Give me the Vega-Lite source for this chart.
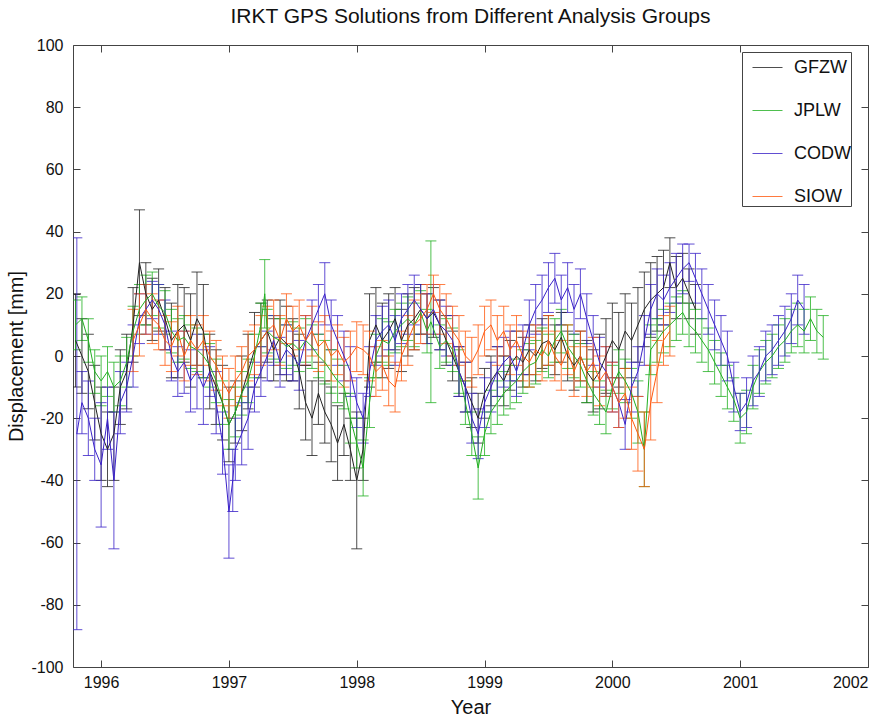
{
  "$schema": "https://vega.github.io/schema/vega-lite/v6.json",
  "width": 795,
  "height": 622,
  "autosize": {"type": "none"},
  "padding": {"left": 73, "top": 45, "right": 27, "bottom": 54},
  "background": "white",
  "title": {"text": "IRKT GPS Solutions from Different Analysis Groups", "font": "Liberation Sans", "fontSize": 21, "fontWeight": "normal", "color": "#111", "offset": 10},
  "config": {
    "view": {"stroke": null},
    "axis": {"labelFont": "Liberation Sans", "titleFont": "Liberation Sans", "labelFontSize": 16, "titleFontSize": 20, "titleFontWeight": "normal", "labelColor": "#111", "titleColor": "#111", "domainColor": "#444", "tickColor": "#444", "grid": false},
    "legend": {"symbolType": "stroke", "labelFont": "Liberation Sans", "labelFontSize": 18, "labelColor": "#111"}
  },
  "data": {"values": [
    {"series":"GFZW","year":1995.80,"disp":5,"err":15},
    {"series":"GFZW","year":1995.85,"disp":0,"err":12},
    {"series":"GFZW","year":1995.90,"disp":-5,"err":12},
    {"series":"GFZW","year":1995.95,"disp":-15,"err":12},
    {"series":"GFZW","year":1996.00,"disp":-25,"err":15},
    {"series":"GFZW","year":1996.05,"disp":-30,"err":12},
    {"series":"GFZW","year":1996.10,"disp":-25,"err":15},
    {"series":"GFZW","year":1996.15,"disp":-10,"err":12},
    {"series":"GFZW","year":1996.20,"disp":-5,"err":12},
    {"series":"GFZW","year":1996.25,"disp":10,"err":12},
    {"series":"GFZW","year":1996.30,"disp":30,"err":17},
    {"series":"GFZW","year":1996.35,"disp":20,"err":10},
    {"series":"GFZW","year":1996.40,"disp":15,"err":10},
    {"series":"GFZW","year":1996.45,"disp":18,"err":10},
    {"series":"GFZW","year":1996.50,"disp":12,"err":10},
    {"series":"GFZW","year":1996.55,"disp":5,"err":12},
    {"series":"GFZW","year":1996.60,"disp":8,"err":15},
    {"series":"GFZW","year":1996.65,"disp":10,"err":12},
    {"series":"GFZW","year":1996.70,"disp":5,"err":15},
    {"series":"GFZW","year":1996.75,"disp":12,"err":15},
    {"series":"GFZW","year":1996.80,"disp":8,"err":15},
    {"series":"GFZW","year":1996.85,"disp":-5,"err":12},
    {"series":"GFZW","year":1996.90,"disp":-10,"err":12},
    {"series":"GFZW","year":1996.95,"disp":-15,"err":12},
    {"series":"GFZW","year":1997.00,"disp":-22,"err":12},
    {"series":"GFZW","year":1997.05,"disp":-18,"err":10},
    {"series":"GFZW","year":1997.10,"disp":-12,"err":12},
    {"series":"GFZW","year":1997.15,"disp":-5,"err":12},
    {"series":"GFZW","year":1997.20,"disp":2,"err":12},
    {"series":"GFZW","year":1997.25,"disp":5,"err":12},
    {"series":"GFZW","year":1997.30,"disp":8,"err":10},
    {"series":"GFZW","year":1997.35,"disp":2,"err":10},
    {"series":"GFZW","year":1997.40,"disp":6,"err":12},
    {"series":"GFZW","year":1997.45,"disp":4,"err":12},
    {"series":"GFZW","year":1997.50,"disp":2,"err":10},
    {"series":"GFZW","year":1997.55,"disp":-5,"err":12},
    {"series":"GFZW","year":1997.60,"disp":-15,"err":12},
    {"series":"GFZW","year":1997.65,"disp":-20,"err":12},
    {"series":"GFZW","year":1997.70,"disp":-12,"err":10},
    {"series":"GFZW","year":1997.75,"disp":-18,"err":10},
    {"series":"GFZW","year":1997.80,"disp":-22,"err":12},
    {"series":"GFZW","year":1997.85,"disp":-28,"err":12},
    {"series":"GFZW","year":1997.90,"disp":-22,"err":10},
    {"series":"GFZW","year":1997.95,"disp":-30,"err":10},
    {"series":"GFZW","year":1998.00,"disp":-40,"err":22},
    {"series":"GFZW","year":1998.05,"disp":-30,"err":10},
    {"series":"GFZW","year":1998.10,"disp":5,"err":15},
    {"series":"GFZW","year":1998.15,"disp":10,"err":12},
    {"series":"GFZW","year":1998.20,"disp":5,"err":12},
    {"series":"GFZW","year":1998.25,"disp":8,"err":12},
    {"series":"GFZW","year":1998.30,"disp":12,"err":10},
    {"series":"GFZW","year":1998.35,"disp":5,"err":10},
    {"series":"GFZW","year":1998.40,"disp":10,"err":10},
    {"series":"GFZW","year":1998.45,"disp":12,"err":10},
    {"series":"GFZW","year":1998.50,"disp":15,"err":8},
    {"series":"GFZW","year":1998.55,"disp":12,"err":8},
    {"series":"GFZW","year":1998.60,"disp":14,"err":8},
    {"series":"GFZW","year":1998.65,"disp":10,"err":8},
    {"series":"GFZW","year":1998.70,"disp":5,"err":8},
    {"series":"GFZW","year":1998.75,"disp":0,"err":8},
    {"series":"GFZW","year":1998.80,"disp":-5,"err":8},
    {"series":"GFZW","year":1998.85,"disp":-10,"err":8},
    {"series":"GFZW","year":1998.90,"disp":-15,"err":8},
    {"series":"GFZW","year":1998.95,"disp":-20,"err":8},
    {"series":"GFZW","year":1999.00,"disp":-12,"err":8},
    {"series":"GFZW","year":1999.05,"disp":-8,"err":8},
    {"series":"GFZW","year":1999.10,"disp":-5,"err":8},
    {"series":"GFZW","year":1999.15,"disp":-8,"err":8},
    {"series":"GFZW","year":1999.20,"disp":-3,"err":8},
    {"series":"GFZW","year":1999.25,"disp":0,"err":8},
    {"series":"GFZW","year":1999.30,"disp":-2,"err":8},
    {"series":"GFZW","year":1999.35,"disp":2,"err":8},
    {"series":"GFZW","year":1999.40,"disp":0,"err":8},
    {"series":"GFZW","year":1999.45,"disp":4,"err":8},
    {"series":"GFZW","year":1999.50,"disp":5,"err":8},
    {"series":"GFZW","year":1999.55,"disp":2,"err":8},
    {"series":"GFZW","year":1999.60,"disp":6,"err":8},
    {"series":"GFZW","year":1999.65,"disp":0,"err":8},
    {"series":"GFZW","year":1999.70,"disp":-3,"err":8},
    {"series":"GFZW","year":1999.75,"disp":0,"err":8},
    {"series":"GFZW","year":1999.80,"disp":-5,"err":10},
    {"series":"GFZW","year":1999.85,"disp":-8,"err":10},
    {"series":"GFZW","year":1999.90,"disp":-5,"err":12},
    {"series":"GFZW","year":1999.95,"disp":0,"err":12},
    {"series":"GFZW","year":2000.00,"disp":5,"err":12},
    {"series":"GFZW","year":2000.05,"disp":2,"err":12},
    {"series":"GFZW","year":2000.10,"disp":8,"err":12},
    {"series":"GFZW","year":2000.15,"disp":5,"err":12},
    {"series":"GFZW","year":2000.20,"disp":10,"err":12},
    {"series":"GFZW","year":2000.25,"disp":15,"err":12},
    {"series":"GFZW","year":2000.30,"disp":18,"err":12},
    {"series":"GFZW","year":2000.35,"disp":20,"err":12},
    {"series":"GFZW","year":2000.40,"disp":22,"err":12},
    {"series":"GFZW","year":2000.45,"disp":30,"err":8},
    {"series":"GFZW","year":2000.50,"disp":22,"err":10},
    {"series":"GFZW","year":2000.55,"disp":25,"err":8},
    {"series":"GFZW","year":2000.60,"disp":20,"err":8},
    {"series":"GFZW","year":2000.65,"disp":15,"err":8},

    {"series":"JPLW","year":1995.80,"disp":10,"err":8},
    {"series":"JPLW","year":1995.85,"disp":12,"err":7},
    {"series":"JPLW","year":1995.90,"disp":5,"err":7},
    {"series":"JPLW","year":1995.95,"disp":-5,"err":7},
    {"series":"JPLW","year":1996.00,"disp":-8,"err":8},
    {"series":"JPLW","year":1996.05,"disp":-5,"err":8},
    {"series":"JPLW","year":1996.10,"disp":-10,"err":8},
    {"series":"JPLW","year":1996.15,"disp":-8,"err":8},
    {"series":"JPLW","year":1996.20,"disp":-2,"err":8},
    {"series":"JPLW","year":1996.25,"disp":8,"err":8},
    {"series":"JPLW","year":1996.30,"disp":15,"err":8},
    {"series":"JPLW","year":1996.35,"disp":18,"err":8},
    {"series":"JPLW","year":1996.40,"disp":20,"err":7},
    {"series":"JPLW","year":1996.45,"disp":16,"err":7},
    {"series":"JPLW","year":1996.50,"disp":14,"err":7},
    {"series":"JPLW","year":1996.55,"disp":8,"err":7},
    {"series":"JPLW","year":1996.60,"disp":5,"err":7},
    {"series":"JPLW","year":1996.65,"disp":6,"err":7},
    {"series":"JPLW","year":1996.70,"disp":3,"err":7},
    {"series":"JPLW","year":1996.75,"disp":2,"err":7},
    {"series":"JPLW","year":1996.80,"disp":0,"err":7},
    {"series":"JPLW","year":1996.85,"disp":-3,"err":7},
    {"series":"JPLW","year":1996.90,"disp":-8,"err":7},
    {"series":"JPLW","year":1996.95,"disp":-15,"err":7},
    {"series":"JPLW","year":1997.00,"disp":-22,"err":8},
    {"series":"JPLW","year":1997.05,"disp":-18,"err":8},
    {"series":"JPLW","year":1997.10,"disp":-12,"err":7},
    {"series":"JPLW","year":1997.15,"disp":-8,"err":7},
    {"series":"JPLW","year":1997.20,"disp":0,"err":7},
    {"series":"JPLW","year":1997.25,"disp":10,"err":7},
    {"series":"JPLW","year":1997.28,"disp":20,"err":11},
    {"series":"JPLW","year":1997.30,"disp":8,"err":7},
    {"series":"JPLW","year":1997.35,"disp":6,"err":7},
    {"series":"JPLW","year":1997.40,"disp":5,"err":7},
    {"series":"JPLW","year":1997.45,"disp":3,"err":7},
    {"series":"JPLW","year":1997.50,"disp":4,"err":7},
    {"series":"JPLW","year":1997.55,"disp":2,"err":7},
    {"series":"JPLW","year":1997.60,"disp":5,"err":7},
    {"series":"JPLW","year":1997.65,"disp":3,"err":7},
    {"series":"JPLW","year":1997.70,"disp":0,"err":7},
    {"series":"JPLW","year":1997.75,"disp":-2,"err":7},
    {"series":"JPLW","year":1997.80,"disp":-5,"err":7},
    {"series":"JPLW","year":1997.85,"disp":-8,"err":7},
    {"series":"JPLW","year":1997.90,"disp":-10,"err":7},
    {"series":"JPLW","year":1997.95,"disp":-20,"err":8},
    {"series":"JPLW","year":1998.00,"disp":-28,"err":8},
    {"series":"JPLW","year":1998.05,"disp":-36,"err":9},
    {"series":"JPLW","year":1998.10,"disp":-15,"err":8},
    {"series":"JPLW","year":1998.15,"disp":0,"err":7},
    {"series":"JPLW","year":1998.20,"disp":5,"err":7},
    {"series":"JPLW","year":1998.25,"disp":4,"err":7},
    {"series":"JPLW","year":1998.30,"disp":8,"err":7},
    {"series":"JPLW","year":1998.35,"disp":10,"err":7},
    {"series":"JPLW","year":1998.40,"disp":12,"err":7},
    {"series":"JPLW","year":1998.45,"disp":10,"err":7},
    {"series":"JPLW","year":1998.50,"disp":14,"err":7},
    {"series":"JPLW","year":1998.55,"disp":8,"err":7},
    {"series":"JPLW","year":1998.58,"disp":11,"err":26},
    {"series":"JPLW","year":1998.65,"disp":3,"err":7},
    {"series":"JPLW","year":1998.70,"disp":5,"err":7},
    {"series":"JPLW","year":1998.75,"disp":2,"err":7},
    {"series":"JPLW","year":1998.80,"disp":-5,"err":7},
    {"series":"JPLW","year":1998.85,"disp":-15,"err":7},
    {"series":"JPLW","year":1998.90,"disp":-25,"err":7},
    {"series":"JPLW","year":1998.95,"disp":-36,"err":10},
    {"series":"JPLW","year":1999.00,"disp":-25,"err":7},
    {"series":"JPLW","year":1999.05,"disp":-18,"err":7},
    {"series":"JPLW","year":1999.10,"disp":-15,"err":7},
    {"series":"JPLW","year":1999.15,"disp":-12,"err":7},
    {"series":"JPLW","year":1999.20,"disp":-10,"err":7},
    {"series":"JPLW","year":1999.25,"disp":-8,"err":7},
    {"series":"JPLW","year":1999.30,"disp":-5,"err":7},
    {"series":"JPLW","year":1999.35,"disp":-3,"err":7},
    {"series":"JPLW","year":1999.40,"disp":-2,"err":7},
    {"series":"JPLW","year":1999.45,"disp":2,"err":7},
    {"series":"JPLW","year":1999.50,"disp":0,"err":7},
    {"series":"JPLW","year":1999.55,"disp":5,"err":7},
    {"series":"JPLW","year":1999.60,"disp":8,"err":7},
    {"series":"JPLW","year":1999.65,"disp":3,"err":7},
    {"series":"JPLW","year":1999.70,"disp":0,"err":7},
    {"series":"JPLW","year":1999.75,"disp":-3,"err":7},
    {"series":"JPLW","year":1999.80,"disp":-8,"err":7},
    {"series":"JPLW","year":1999.85,"disp":-12,"err":7},
    {"series":"JPLW","year":1999.90,"disp":-15,"err":7},
    {"series":"JPLW","year":1999.95,"disp":-18,"err":7},
    {"series":"JPLW","year":2000.00,"disp":-10,"err":7},
    {"series":"JPLW","year":2000.05,"disp":-5,"err":7},
    {"series":"JPLW","year":2000.10,"disp":-8,"err":7},
    {"series":"JPLW","year":2000.15,"disp":-12,"err":8},
    {"series":"JPLW","year":2000.20,"disp":-18,"err":10},
    {"series":"JPLW","year":2000.25,"disp":-30,"err":12},
    {"series":"JPLW","year":2000.30,"disp":2,"err":8},
    {"series":"JPLW","year":2000.35,"disp":5,"err":7},
    {"series":"JPLW","year":2000.40,"disp":8,"err":7},
    {"series":"JPLW","year":2000.45,"disp":10,"err":7},
    {"series":"JPLW","year":2000.50,"disp":12,"err":7},
    {"series":"JPLW","year":2000.55,"disp":14,"err":7},
    {"series":"JPLW","year":2000.60,"disp":10,"err":7},
    {"series":"JPLW","year":2000.65,"disp":8,"err":7},
    {"series":"JPLW","year":2000.70,"disp":5,"err":7},
    {"series":"JPLW","year":2000.75,"disp":2,"err":7},
    {"series":"JPLW","year":2000.80,"disp":-2,"err":7},
    {"series":"JPLW","year":2000.85,"disp":-6,"err":7},
    {"series":"JPLW","year":2000.90,"disp":-10,"err":7},
    {"series":"JPLW","year":2000.95,"disp":-14,"err":7},
    {"series":"JPLW","year":2001.00,"disp":-20,"err":8},
    {"series":"JPLW","year":2001.05,"disp":-18,"err":7},
    {"series":"JPLW","year":2001.10,"disp":-10,"err":7},
    {"series":"JPLW","year":2001.15,"disp":-5,"err":7},
    {"series":"JPLW","year":2001.20,"disp":-2,"err":7},
    {"series":"JPLW","year":2001.25,"disp":0,"err":7},
    {"series":"JPLW","year":2001.30,"disp":3,"err":7},
    {"series":"JPLW","year":2001.35,"disp":5,"err":7},
    {"series":"JPLW","year":2001.40,"disp":8,"err":7},
    {"series":"JPLW","year":2001.45,"disp":10,"err":7},
    {"series":"JPLW","year":2001.50,"disp":8,"err":7},
    {"series":"JPLW","year":2001.55,"disp":12,"err":7},
    {"series":"JPLW","year":2001.60,"disp":8,"err":7},
    {"series":"JPLW","year":2001.65,"disp":6,"err":7},

    {"series":"CODW","year":1995.81,"disp":-25,"err":63},
    {"series":"CODW","year":1995.85,"disp":-15,"err":10},
    {"series":"CODW","year":1995.90,"disp":-20,"err":12},
    {"series":"CODW","year":1995.95,"disp":-30,"err":10},
    {"series":"CODW","year":1996.00,"disp":-35,"err":20},
    {"series":"CODW","year":1996.05,"disp":-20,"err":10},
    {"series":"CODW","year":1996.10,"disp":-40,"err":22},
    {"series":"CODW","year":1996.15,"disp":-15,"err":10},
    {"series":"CODW","year":1996.20,"disp":-10,"err":8},
    {"series":"CODW","year":1996.25,"disp":0,"err":10},
    {"series":"CODW","year":1996.30,"disp":12,"err":8},
    {"series":"CODW","year":1996.35,"disp":15,"err":8},
    {"series":"CODW","year":1996.40,"disp":18,"err":6},
    {"series":"CODW","year":1996.45,"disp":15,"err":8},
    {"series":"CODW","year":1996.50,"disp":10,"err":8},
    {"series":"CODW","year":1996.55,"disp":0,"err":8},
    {"series":"CODW","year":1996.60,"disp":-5,"err":8},
    {"series":"CODW","year":1996.65,"disp":-2,"err":10},
    {"series":"CODW","year":1996.70,"disp":-8,"err":10},
    {"series":"CODW","year":1996.75,"disp":-5,"err":12},
    {"series":"CODW","year":1996.80,"disp":-10,"err":12},
    {"series":"CODW","year":1996.85,"disp":-5,"err":8},
    {"series":"CODW","year":1996.90,"disp":-15,"err":10},
    {"series":"CODW","year":1996.95,"disp":-28,"err":10},
    {"series":"CODW","year":1997.00,"disp":-50,"err":15},
    {"series":"CODW","year":1997.03,"disp":-40,"err":10},
    {"series":"CODW","year":1997.05,"disp":-30,"err":10},
    {"series":"CODW","year":1997.10,"disp":-25,"err":10},
    {"series":"CODW","year":1997.15,"disp":-20,"err":10},
    {"series":"CODW","year":1997.20,"disp":-10,"err":8},
    {"series":"CODW","year":1997.25,"disp":-5,"err":8},
    {"series":"CODW","year":1997.30,"disp":0,"err":8},
    {"series":"CODW","year":1997.35,"disp":5,"err":8},
    {"series":"CODW","year":1997.40,"disp":-2,"err":8},
    {"series":"CODW","year":1997.45,"disp":2,"err":8},
    {"series":"CODW","year":1997.50,"disp":0,"err":8},
    {"series":"CODW","year":1997.55,"disp":-3,"err":8},
    {"series":"CODW","year":1997.60,"disp":5,"err":8},
    {"series":"CODW","year":1997.65,"disp":10,"err":8},
    {"series":"CODW","year":1997.70,"disp":15,"err":8},
    {"series":"CODW","year":1997.75,"disp":20,"err":10},
    {"series":"CODW","year":1997.80,"disp":10,"err":8},
    {"series":"CODW","year":1997.85,"disp":5,"err":8},
    {"series":"CODW","year":1997.90,"disp":0,"err":8},
    {"series":"CODW","year":1997.95,"disp":-5,"err":8},
    {"series":"CODW","year":1998.00,"disp":-15,"err":8},
    {"series":"CODW","year":1998.05,"disp":-20,"err":8},
    {"series":"CODW","year":1998.10,"disp":-5,"err":8},
    {"series":"CODW","year":1998.15,"disp":5,"err":8},
    {"series":"CODW","year":1998.20,"disp":8,"err":8},
    {"series":"CODW","year":1998.25,"disp":10,"err":8},
    {"series":"CODW","year":1998.30,"disp":5,"err":8},
    {"series":"CODW","year":1998.35,"disp":12,"err":8},
    {"series":"CODW","year":1998.40,"disp":15,"err":8},
    {"series":"CODW","year":1998.45,"disp":18,"err":8},
    {"series":"CODW","year":1998.50,"disp":15,"err":8},
    {"series":"CODW","year":1998.55,"disp":12,"err":8},
    {"series":"CODW","year":1998.60,"disp":15,"err":8},
    {"series":"CODW","year":1998.65,"disp":10,"err":8},
    {"series":"CODW","year":1998.70,"disp":8,"err":8},
    {"series":"CODW","year":1998.75,"disp":5,"err":8},
    {"series":"CODW","year":1998.80,"disp":-5,"err":8},
    {"series":"CODW","year":1998.85,"disp":-10,"err":8},
    {"series":"CODW","year":1998.90,"disp":-20,"err":8},
    {"series":"CODW","year":1998.95,"disp":-25,"err":8},
    {"series":"CODW","year":1999.00,"disp":-15,"err":8},
    {"series":"CODW","year":1999.05,"disp":-10,"err":8},
    {"series":"CODW","year":1999.10,"disp":-5,"err":8},
    {"series":"CODW","year":1999.15,"disp":-2,"err":8},
    {"series":"CODW","year":1999.20,"disp":0,"err":8},
    {"series":"CODW","year":1999.25,"disp":-5,"err":8},
    {"series":"CODW","year":1999.30,"disp":2,"err":8},
    {"series":"CODW","year":1999.35,"disp":10,"err":8},
    {"series":"CODW","year":1999.40,"disp":15,"err":8},
    {"series":"CODW","year":1999.45,"disp":18,"err":8},
    {"series":"CODW","year":1999.50,"disp":22,"err":8},
    {"series":"CODW","year":1999.55,"disp":25,"err":8},
    {"series":"CODW","year":1999.60,"disp":18,"err":8},
    {"series":"CODW","year":1999.65,"disp":22,"err":8},
    {"series":"CODW","year":1999.70,"disp":15,"err":8},
    {"series":"CODW","year":1999.75,"disp":20,"err":8},
    {"series":"CODW","year":1999.80,"disp":12,"err":8},
    {"series":"CODW","year":1999.85,"disp":5,"err":8},
    {"series":"CODW","year":1999.90,"disp":-2,"err":8},
    {"series":"CODW","year":1999.95,"disp":-5,"err":8},
    {"series":"CODW","year":2000.00,"disp":-10,"err":8},
    {"series":"CODW","year":2000.05,"disp":-15,"err":8},
    {"series":"CODW","year":2000.10,"disp":-22,"err":8},
    {"series":"CODW","year":2000.15,"disp":-10,"err":8},
    {"series":"CODW","year":2000.20,"disp":-5,"err":8},
    {"series":"CODW","year":2000.25,"disp":5,"err":8},
    {"series":"CODW","year":2000.30,"disp":15,"err":8},
    {"series":"CODW","year":2000.35,"disp":20,"err":8},
    {"series":"CODW","year":2000.40,"disp":18,"err":8},
    {"series":"CODW","year":2000.45,"disp":22,"err":8},
    {"series":"CODW","year":2000.50,"disp":25,"err":8},
    {"series":"CODW","year":2000.55,"disp":28,"err":8},
    {"series":"CODW","year":2000.60,"disp":30,"err":6},
    {"series":"CODW","year":2000.65,"disp":25,"err":8},
    {"series":"CODW","year":2000.70,"disp":20,"err":8},
    {"series":"CODW","year":2000.75,"disp":15,"err":8},
    {"series":"CODW","year":2000.80,"disp":10,"err":8},
    {"series":"CODW","year":2000.85,"disp":5,"err":8},
    {"series":"CODW","year":2000.90,"disp":0,"err":8},
    {"series":"CODW","year":2000.95,"disp":-10,"err":8},
    {"series":"CODW","year":2001.00,"disp":-18,"err":6},
    {"series":"CODW","year":2001.05,"disp":-15,"err":8},
    {"series":"CODW","year":2001.10,"disp":-8,"err":8},
    {"series":"CODW","year":2001.15,"disp":-5,"err":8},
    {"series":"CODW","year":2001.20,"disp":0,"err":8},
    {"series":"CODW","year":2001.25,"disp":2,"err":8},
    {"series":"CODW","year":2001.30,"disp":5,"err":8},
    {"series":"CODW","year":2001.35,"disp":8,"err":8},
    {"series":"CODW","year":2001.40,"disp":12,"err":8},
    {"series":"CODW","year":2001.45,"disp":18,"err":8},
    {"series":"CODW","year":2001.50,"disp":15,"err":8},

    {"series":"SIOW","year":1996.25,"disp":5,"err":10},
    {"series":"SIOW","year":1996.30,"disp":10,"err":10},
    {"series":"SIOW","year":1996.35,"disp":15,"err":8},
    {"series":"SIOW","year":1996.40,"disp":12,"err":8},
    {"series":"SIOW","year":1996.45,"disp":10,"err":8},
    {"series":"SIOW","year":1996.50,"disp":5,"err":8},
    {"series":"SIOW","year":1996.55,"disp":3,"err":8},
    {"series":"SIOW","year":1996.60,"disp":8,"err":8},
    {"series":"SIOW","year":1996.65,"disp":0,"err":8},
    {"series":"SIOW","year":1996.70,"disp":5,"err":8},
    {"series":"SIOW","year":1996.75,"disp":2,"err":8},
    {"series":"SIOW","year":1996.80,"disp":5,"err":8},
    {"series":"SIOW","year":1996.85,"disp":0,"err":8},
    {"series":"SIOW","year":1996.90,"disp":-3,"err":8},
    {"series":"SIOW","year":1996.95,"disp":-8,"err":8},
    {"series":"SIOW","year":1997.00,"disp":-12,"err":8},
    {"series":"SIOW","year":1997.05,"disp":-8,"err":8},
    {"series":"SIOW","year":1997.10,"disp":-5,"err":8},
    {"series":"SIOW","year":1997.15,"disp":0,"err":8},
    {"series":"SIOW","year":1997.20,"disp":2,"err":8},
    {"series":"SIOW","year":1997.25,"disp":5,"err":8},
    {"series":"SIOW","year":1997.30,"disp":8,"err":8},
    {"series":"SIOW","year":1997.35,"disp":10,"err":8},
    {"series":"SIOW","year":1997.40,"disp":5,"err":8},
    {"series":"SIOW","year":1997.45,"disp":12,"err":8},
    {"series":"SIOW","year":1997.50,"disp":8,"err":8},
    {"series":"SIOW","year":1997.55,"disp":10,"err":8},
    {"series":"SIOW","year":1997.60,"disp":5,"err":8},
    {"series":"SIOW","year":1997.65,"disp":8,"err":8},
    {"series":"SIOW","year":1997.70,"disp":3,"err":8},
    {"series":"SIOW","year":1997.75,"disp":5,"err":8},
    {"series":"SIOW","year":1997.80,"disp":0,"err":8},
    {"series":"SIOW","year":1997.85,"disp":2,"err":8},
    {"series":"SIOW","year":1997.90,"disp":-2,"err":8},
    {"series":"SIOW","year":1997.95,"disp":0,"err":8},
    {"series":"SIOW","year":1998.00,"disp":3,"err":8},
    {"series":"SIOW","year":1998.05,"disp":2,"err":8},
    {"series":"SIOW","year":1998.10,"disp":0,"err":8},
    {"series":"SIOW","year":1998.15,"disp":-5,"err":8},
    {"series":"SIOW","year":1998.20,"disp":-3,"err":8},
    {"series":"SIOW","year":1998.25,"disp":-8,"err":8},
    {"series":"SIOW","year":1998.30,"disp":-10,"err":8},
    {"series":"SIOW","year":1998.35,"disp":0,"err":8},
    {"series":"SIOW","year":1998.40,"disp":5,"err":8},
    {"series":"SIOW","year":1998.45,"disp":10,"err":8},
    {"series":"SIOW","year":1998.50,"disp":12,"err":8},
    {"series":"SIOW","year":1998.55,"disp":15,"err":8},
    {"series":"SIOW","year":1998.60,"disp":20,"err":6},
    {"series":"SIOW","year":1998.65,"disp":15,"err":8},
    {"series":"SIOW","year":1998.70,"disp":12,"err":8},
    {"series":"SIOW","year":1998.75,"disp":8,"err":8},
    {"series":"SIOW","year":1998.80,"disp":5,"err":8},
    {"series":"SIOW","year":1998.85,"disp":0,"err":8},
    {"series":"SIOW","year":1998.90,"disp":-2,"err":8},
    {"series":"SIOW","year":1998.95,"disp":2,"err":8},
    {"series":"SIOW","year":1999.00,"disp":8,"err":8},
    {"series":"SIOW","year":1999.05,"disp":10,"err":8},
    {"series":"SIOW","year":1999.10,"disp":5,"err":8},
    {"series":"SIOW","year":1999.15,"disp":8,"err":8},
    {"series":"SIOW","year":1999.20,"disp":2,"err":8},
    {"series":"SIOW","year":1999.25,"disp":5,"err":8},
    {"series":"SIOW","year":1999.30,"disp":0,"err":8},
    {"series":"SIOW","year":1999.35,"disp":-2,"err":8},
    {"series":"SIOW","year":1999.40,"disp":2,"err":8},
    {"series":"SIOW","year":1999.45,"disp":0,"err":8},
    {"series":"SIOW","year":1999.50,"disp":5,"err":8},
    {"series":"SIOW","year":1999.55,"disp":0,"err":8},
    {"series":"SIOW","year":1999.60,"disp":-3,"err":8},
    {"series":"SIOW","year":1999.65,"disp":2,"err":8},
    {"series":"SIOW","year":1999.70,"disp":-5,"err":8},
    {"series":"SIOW","year":1999.75,"disp":0,"err":8},
    {"series":"SIOW","year":1999.80,"disp":-5,"err":8},
    {"series":"SIOW","year":1999.85,"disp":-2,"err":8},
    {"series":"SIOW","year":1999.90,"disp":-8,"err":8},
    {"series":"SIOW","year":1999.95,"disp":-5,"err":8},
    {"series":"SIOW","year":2000.00,"disp":-10,"err":8},
    {"series":"SIOW","year":2000.05,"disp":-15,"err":8},
    {"series":"SIOW","year":2000.10,"disp":-12,"err":8},
    {"series":"SIOW","year":2000.15,"disp":-20,"err":10},
    {"series":"SIOW","year":2000.20,"disp":-25,"err":12},
    {"series":"SIOW","year":2000.25,"disp":-30,"err":12},
    {"series":"SIOW","year":2000.30,"disp":-15,"err":12},
    {"series":"SIOW","year":2000.35,"disp":-5,"err":10},
    {"series":"SIOW","year":2000.40,"disp":5,"err":8},
    {"series":"SIOW","year":2000.45,"disp":8,"err":8}
  ]},
  "resolve": {"axis": {"x": "independent", "y": "independent"}},
  "layer": [
    {
      "mark": {"type": "errorbar", "ticks": {"size": 11, "thickness": 1}, "thickness": 1, "opacity": 0.8, "clip": true},
      "encoding": {
        "x": {"field": "year", "type": "quantitative", "scale": {"domain": [1995.78, 2002], "nice": false, "zero": false},
              "axis": {"orient": "bottom", "title": "Year", "values": [1996, 1997, 1998, 1999, 2000, 2001, 2002], "labelExpr": "'' + datum.value", "tickSize": -7, "labelPadding": 14, "titlePadding": 7}},
        "y": {"field": "disp", "type": "quantitative", "scale": {"domain": [-100, 100], "nice": false, "zero": false},
              "axis": {"orient": "left", "title": "Displacement [mm]", "values": [-100, -80, -60, -40, -20, 0, 20, 40, 60, 80, 100], "labelExpr": "'' + datum.value", "tickSize": -7, "labelPadding": 17, "titlePadding": 4}},
        "yError": {"field": "err"},
        "color": {"field": "series", "type": "nominal", "scale": {"domain": ["GFZW", "JPLW", "CODW", "SIOW"], "range": ["#222222", "#22b022", "#3a22c8", "#ff5a10"]},
                  "legend": {"title": null, "orient": "none", "legendX": 669, "legendY": 7, "symbolType": "stroke", "symbolSize": 900, "symbolStrokeWidth": 1, "symbolOffset": 10, "labelOffset": 11, "rowPadding": 18, "padding": 0, "strokeColor": "#444", "fillColor": "white"}}
      }
    },
    {
      "mark": {"type": "line", "strokeWidth": 1, "clip": true},
      "encoding": {
        "x": {"field": "year", "type": "quantitative", "axis": {"orient": "top", "title": null, "labels": false, "values": [1996, 1997, 1998, 1999, 2000, 2001, 2002], "tickSize": -7}},
        "y": {"field": "disp", "type": "quantitative", "axis": {"orient": "right", "title": null, "labels": false, "values": [-100, -80, -60, -40, -20, 0, 20, 40, 60, 80, 100], "tickSize": -7}},
        "color": {"field": "series", "type": "nominal",
                  "legend": {"title": null, "orient": "none", "legendX": 669, "legendY": 7, "symbolType": "stroke", "symbolSize": 900, "symbolStrokeWidth": 1, "symbolOffset": 10, "labelOffset": 11, "rowPadding": 18, "padding": 0, "strokeColor": "#444", "fillColor": "white"}}
      }
    }
  ]
}
